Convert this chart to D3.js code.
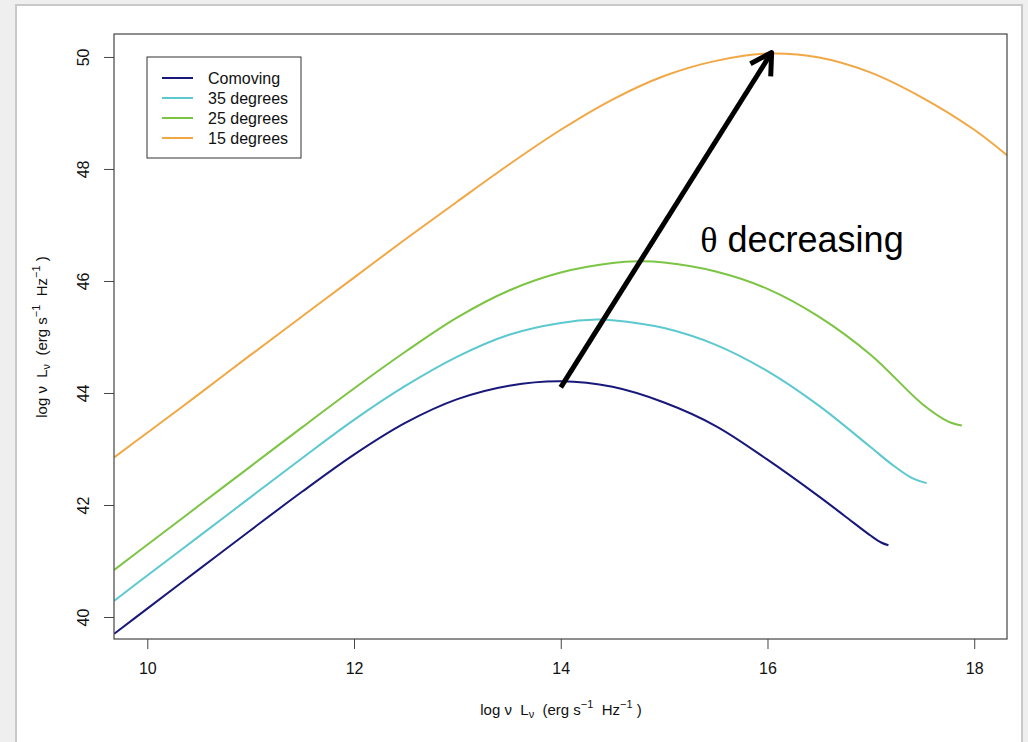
<!DOCTYPE html>
<html>
<head>
<meta charset="utf-8">
<script src="https://cdn.jsdelivr.net/npm/d3@7"></script>
<style>
  html, body { margin: 0; padding: 0; background: #efefef; }
  svg { display: block; font-family: "Liberation Sans", Arial, Helvetica, sans-serif; }
  text { white-space: pre; }
</style>
</head>
<body>
<svg id="sed" width="1028" height="742"></svg>
<script>
// values: [log nu, log nu L_nu]
const comoving = [[9.68,39.70],[10,40.15],[10.5,40.85],[11,41.55],[11.5,42.24],[12,42.90],[12.5,43.47],[13,43.89],[13.5,44.13],[14,44.21],[14.5,44.11],[15,43.83],[15.5,43.41],[16,42.81],[16.5,42.15],[16.75,41.80],[17,41.45],[17.1,41.33],[17.17,41.28]]
const deg35 = [[9.68,40.29],[10,40.74],[10.5,41.44],[11,42.14],[11.5,42.84],[12,43.52],[12.5,44.13],[13,44.65],[13.5,45.04],[14,45.25],[14.35,45.31],[14.5,45.30],[15,45.16],[15.5,44.86],[16,44.39],[16.5,43.77],[17,43.03],[17.2,42.73],[17.4,42.48],[17.54,42.39]]
const deg25 = [[9.68,40.84],[10,41.29],[10.5,41.99],[11,42.69],[11.5,43.39],[12,44.08],[12.5,44.74],[13,45.35],[13.5,45.83],[14,46.15],[14.5,46.32],[14.75,46.35],[15,46.33],[15.5,46.17],[16,45.86],[16.5,45.36],[17,44.68],[17.5,43.80],[17.75,43.49],[17.88,43.42]]
const deg15 = [[9.68,42.85],[10,43.29],[10.5,43.98],[11,44.68],[11.5,45.37],[12,46.06],[12.5,46.75],[13,47.42],[13.5,48.08],[14,48.70],[14.5,49.24],[15,49.66],[15.5,49.93],[16,50.06],[16.5,49.99],[17,49.72],[17.5,49.27],[18,48.70],[18.32,48.24]]

const seriesNames = ['Comoving', '35 degrees', '25 degrees', '15 degrees']
const seriesColors = ['#18187a', '#5cc8cf', '#7cc443', '#f2a745']
const xTicks = [10, 12, 14, 16, 18]
const yTicks = [40, 42, 44, 46, 48, 50]

// annotation arrow and its text, in data units
const arrowFrom = [14.0, 44.10]
const arrowTo = [16.04, 50.08]
const notePos = [15.35, 46.52]

const svg = d3.select('svg#sed')

// screenshot panel
svg.append('rect')
  .attr('x', 16).attr('y', 5)
  .attr('width', 1006).attr('height', 745)
  .attr('fill', '#fff')
  .attr('stroke', '#c9c9c9')
  .attr('stroke-width', 2)

const xScale = d3.scaleLinear().domain([9.678, 18.317]).range([114, 1007])
const yScale = d3.scaleLinear().domain([39.607, 50.41]).range([639, 34])

svg.append('clipPath').attr('id', 'plotclip')
  .append('rect')
  .attr('x', 114).attr('y', 34)
  .attr('width', 893).attr('height', 605)

const line = d3.line()
  .x(d => xScale(d[0]))
  .y(d => yScale(d[1]))
  .curve(d3.curveCatmullRom.alpha(0.5))

svg.append('g')
  .attr('clip-path', 'url(#plotclip)')
  .selectAll('path')
  .data([comoving, deg35, deg25, deg15])
  .enter()
  .append('path')
  .attr('d', line)
  .attr('fill', 'none')
  .attr('stroke', (d, i) => seriesColors[i])
  .attr('stroke-width', 2)

// frame
svg.append('rect')
  .attr('x', 114).attr('y', 34)
  .attr('width', 893).attr('height', 605)
  .attr('fill', 'none')
  .attr('stroke', '#444')
  .attr('stroke-width', 1.2)

// x axis
const xAxis = svg.append('g')
  .attr('transform', 'translate(0,639)')
  .call(d3.axisBottom(xScale).tickValues(xTicks).tickSize(10).tickPadding(14))
xAxis.select('.domain').remove()
xAxis.selectAll('line').attr('stroke', '#444')
xAxis.selectAll('text')
  .attr('font-size', '16px')
  .attr('font-family', '"Liberation Sans", Arial, sans-serif')
  .attr('fill', '#111')

// y axis, labels turned like R does
const yAxis = svg.append('g')
  .attr('transform', 'translate(114,0)')
  .call(d3.axisLeft(yScale).tickValues(yTicks).tickSize(10))
yAxis.select('.domain').remove()
yAxis.selectAll('line').attr('stroke', '#444')
yAxis.selectAll('text')
  .attr('x', null).attr('dy', null)
  .attr('font-size', '16px')
  .attr('font-family', '"Liberation Sans", Arial, sans-serif')
  .attr('fill', '#111')
  .attr('text-anchor', 'middle')
  .attr('transform', 'translate(-31,0) rotate(-90)')
  .attr('dominant-baseline', 'central')

// axis titles
function axisTitle(g) {
  g.append('tspan').text('log \u03bd  L')
  g.append('tspan').text('\u03bd').attr('font-size', '11px').attr('dy', 3)
  g.append('tspan').text('  (erg s').attr('font-size', '15px').attr('dy', -3)
  g.append('tspan').text('\u22121').attr('font-size', '11px').attr('dy', -7)
  g.append('tspan').text('  Hz').attr('font-size', '15px').attr('dy', 7)
  g.append('tspan').text('\u22121').attr('font-size', '11px').attr('dy', -7)
  g.append('tspan').text(' )').attr('font-size', '15px').attr('dy', 7)
}

svg.append('text')
  .attr('x', 561).attr('y', 715)
  .attr('text-anchor', 'middle')
  .attr('font-size', '15px')
  .attr('fill', '#111')
  .call(axisTitle)

svg.append('text')
  .attr('transform', 'translate(47,337) rotate(-90)')
  .attr('text-anchor', 'middle')
  .attr('font-size', '15px')
  .attr('fill', '#111')
  .call(axisTitle)

// legend
const legend = svg.append('g')
legend.append('rect')
  .attr('x', 147).attr('y', 57)
  .attr('width', 154).attr('height', 101)
  .attr('fill', '#fff')
  .attr('stroke', '#333')
  .attr('stroke-width', 1)

legend.selectAll('line')
  .data(seriesNames)
  .enter()
  .append('line')
  .attr('x1', 162).attr('x2', 193)
  .attr('y1', (d, i) => 78 + i * 20)
  .attr('y2', (d, i) => 78 + i * 20)
  .attr('stroke', (d, i) => seriesColors[i])
  .attr('stroke-width', 2)

legend.selectAll('text')
  .data(seriesNames)
  .enter()
  .append('text')
  .attr('x', 208)
  .attr('y', (d, i) => 78 + i * 20)
  .attr('dominant-baseline', 'central')
  .attr('font-size', '16px')
  .attr('fill', '#111')
  .text(d => d)

// arrow
const ax0 = xScale(arrowFrom[0]), ay0 = yScale(arrowFrom[1])
const ax1 = xScale(arrowTo[0]), ay1 = yScale(arrowTo[1])
const ang = Math.atan2(ay1 - ay0, ax1 - ax0)
const headLen = 24
const headAng = Math.PI / 6

svg.append('line')
  .attr('x1', ax0).attr('y1', ay0)
  .attr('x2', ax1).attr('y2', ay1)
  .attr('stroke', '#000')
  .attr('stroke-width', 5)

svg.append('polyline')
  .attr('points', [
    [ax1 - headLen * Math.cos(ang - headAng), ay1 - headLen * Math.sin(ang - headAng)],
    [ax1, ay1],
    [ax1 - headLen * Math.cos(ang + headAng), ay1 - headLen * Math.sin(ang + headAng)]
  ].map(p => p.join(',')).join(' '))
  .attr('fill', 'none')
  .attr('stroke', '#000')
  .attr('stroke-width', 5)
  .attr('stroke-linejoin', 'round')

const note = svg.append('text')
  .attr('x', xScale(notePos[0]))
  .attr('y', yScale(notePos[1]))
  .attr('font-size', '36px')
  .attr('fill', '#000')
note.append('tspan').text('\u03b8').attr('font-family', '"Liberation Serif", "DejaVu Serif", serif')
note.append('tspan').text(' decreasing')
</script>
</body>
</html>
